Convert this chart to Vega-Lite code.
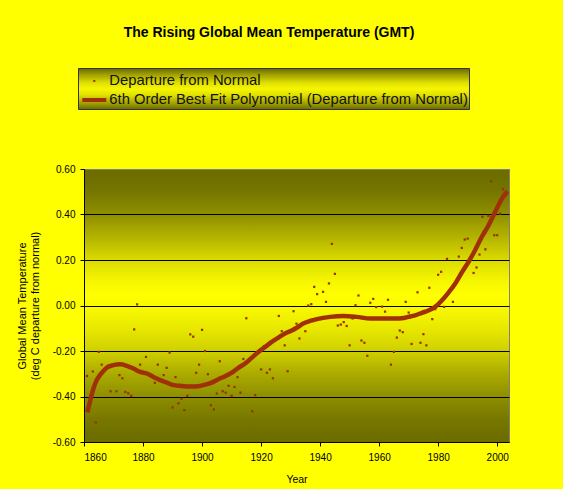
{
  "$schema": "https://vega.github.io/schema/vega-lite/v6.json",
  "autosize": {"type": "none"},
  "width": 425,
  "height": 273,
  "padding": {"left": 84, "top": 169, "right": 54, "bottom": 47},
  "background": "#ffff00",
  "view": {
    "fill": {"gradient": "linear", "x1": 0, "y1": 0, "x2": 0, "y2": 1, "stops": [
      {"offset": 0, "color": "#6b6b00"},
      {"offset": 0.08, "color": "#757500"},
      {"offset": 0.167, "color": "#909000"},
      {"offset": 0.25, "color": "#b4b400"},
      {"offset": 0.333, "color": "#dcdc00"},
      {"offset": 0.417, "color": "#f8f800"},
      {"offset": 0.46, "color": "#ffff00"},
      {"offset": 0.5, "color": "#fafa00"},
      {"offset": 0.583, "color": "#e8e800"},
      {"offset": 0.667, "color": "#cfcf00"},
      {"offset": 0.75, "color": "#aaaa00"},
      {"offset": 0.833, "color": "#8e8e00"},
      {"offset": 0.92, "color": "#767600"},
      {"offset": 1, "color": "#6b6b00"}
    ]},
    "stroke": "#808080",
    "strokeWidth": 1
  },
  "title": {
    "text": "The Rising Global Mean Temperature (GMT)",
    "font": "Liberation Sans",
    "fontSize": 14,
    "fontWeight": "bold",
    "color": "#000000",
    "anchor": "middle",
    "frame": "group",
    "dx": -27.5,
    "offset": 28
  },
  "datasets": {
    "observed": [
      {"year": 1861, "value": -0.31}, {"year": 1863, "value": -0.29}, {"year": 1864, "value": -0.514},
      {"year": 1865, "value": -0.204}, {"year": 1866, "value": -0.26}, {"year": 1868, "value": -0.265},
      {"year": 1869, "value": -0.377}, {"year": 1871, "value": -0.377}, {"year": 1872, "value": -0.306},
      {"year": 1873, "value": -0.32}, {"year": 1874, "value": -0.38}, {"year": 1875, "value": -0.386},
      {"year": 1876, "value": -0.397}, {"year": 1877, "value": -0.105}, {"year": 1878, "value": 0.005},
      {"year": 1879, "value": -0.26}, {"year": 1881, "value": -0.226}, {"year": 1884, "value": -0.34},
      {"year": 1885, "value": -0.26}, {"year": 1887, "value": -0.306}, {"year": 1888, "value": -0.274},
      {"year": 1889, "value": -0.207}, {"year": 1890, "value": -0.448}, {"year": 1891, "value": -0.315},
      {"year": 1892, "value": -0.43}, {"year": 1893, "value": -0.41}, {"year": 1894, "value": -0.46},
      {"year": 1895, "value": -0.397}, {"year": 1896, "value": -0.127}, {"year": 1897, "value": -0.137},
      {"year": 1898, "value": -0.296}, {"year": 1899, "value": -0.26}, {"year": 1900, "value": -0.107},
      {"year": 1901, "value": -0.2}, {"year": 1902, "value": -0.302}, {"year": 1903, "value": -0.438},
      {"year": 1904, "value": -0.457}, {"year": 1905, "value": -0.387}, {"year": 1906, "value": -0.245},
      {"year": 1907, "value": -0.377}, {"year": 1908, "value": -0.383}, {"year": 1909, "value": -0.353},
      {"year": 1910, "value": -0.397}, {"year": 1911, "value": -0.358}, {"year": 1912, "value": -0.315},
      {"year": 1913, "value": -0.383}, {"year": 1914, "value": -0.235}, {"year": 1915, "value": -0.056},
      {"year": 1917, "value": -0.465}, {"year": 1918, "value": -0.394}, {"year": 1920, "value": -0.281},
      {"year": 1921, "value": -0.179}, {"year": 1922, "value": -0.296}, {"year": 1923, "value": -0.281},
      {"year": 1924, "value": -0.32}, {"year": 1926, "value": -0.046}, {"year": 1927, "value": -0.113},
      {"year": 1928, "value": -0.175}, {"year": 1929, "value": -0.289}, {"year": 1931, "value": -0.025},
      {"year": 1932, "value": -0.08}, {"year": 1933, "value": -0.145}, {"year": 1934, "value": -0.082},
      {"year": 1935, "value": -0.113}, {"year": 1936, "value": 0.0}, {"year": 1937, "value": 0.006},
      {"year": 1938, "value": 0.082}, {"year": 1939, "value": 0.05}, {"year": 1941, "value": 0.06},
      {"year": 1942, "value": 0.016}, {"year": 1943, "value": 0.097}, {"year": 1944, "value": 0.271},
      {"year": 1945, "value": 0.139}, {"year": 1946, "value": -0.088}, {"year": 1947, "value": -0.084},
      {"year": 1948, "value": -0.073}, {"year": 1949, "value": -0.09}, {"year": 1950, "value": -0.175},
      {"year": 1951, "value": -0.057}, {"year": 1952, "value": 0.001}, {"year": 1953, "value": 0.044},
      {"year": 1954, "value": -0.154}, {"year": 1955, "value": -0.164}, {"year": 1956, "value": -0.221},
      {"year": 1957, "value": 0.012}, {"year": 1958, "value": 0.029}, {"year": 1959, "value": -0.007},
      {"year": 1961, "value": -0.005}, {"year": 1962, "value": -0.027}, {"year": 1963, "value": 0.025},
      {"year": 1964, "value": -0.26}, {"year": 1965, "value": -0.204}, {"year": 1966, "value": -0.141},
      {"year": 1967, "value": -0.11}, {"year": 1968, "value": -0.117}, {"year": 1969, "value": 0.016},
      {"year": 1970, "value": -0.031}, {"year": 1971, "value": -0.169}, {"year": 1973, "value": 0.058},
      {"year": 1974, "value": -0.164}, {"year": 1975, "value": -0.126}, {"year": 1976, "value": -0.175},
      {"year": 1977, "value": 0.078}, {"year": 1978, "value": -0.06}, {"year": 1979, "value": -0.016},
      {"year": 1980, "value": 0.135}, {"year": 1981, "value": 0.148}, {"year": 1982, "value": -0.006},
      {"year": 1983, "value": 0.205}, {"year": 1985, "value": 0.016}, {"year": 1987, "value": 0.215},
      {"year": 1988, "value": 0.253}, {"year": 1989, "value": 0.29}, {"year": 1990, "value": 0.294},
      {"year": 1992, "value": 0.143}, {"year": 1993, "value": 0.167}, {"year": 1994, "value": 0.224},
      {"year": 1995, "value": 0.39}, {"year": 1996, "value": 0.247}, {"year": 1997, "value": 0.394},
      {"year": 1998, "value": 0.546}, {"year": 1999, "value": 0.309}, {"year": 2000, "value": 0.309},
      {"year": 2001, "value": 0.404}, {"year": 2002, "value": 0.511}
    ],
    "fit": [
      {"year": 1861.1, "value": -0.47}, {"year": 1862, "value": -0.424}, {"year": 1863.2, "value": -0.365},
      {"year": 1864.3, "value": -0.328}, {"year": 1865.4, "value": -0.306}, {"year": 1866.5, "value": -0.289},
      {"year": 1867.7, "value": -0.274}, {"year": 1869.9, "value": -0.262}, {"year": 1872.2, "value": -0.258},
      {"year": 1874.5, "value": -0.265}, {"year": 1876.7, "value": -0.277}, {"year": 1879, "value": -0.292},
      {"year": 1881.3, "value": -0.299}, {"year": 1883.5, "value": -0.314}, {"year": 1885.8, "value": -0.328},
      {"year": 1888, "value": -0.339}, {"year": 1890.3, "value": -0.35}, {"year": 1892.5, "value": -0.353},
      {"year": 1895.9, "value": -0.356}, {"year": 1898.7, "value": -0.355}, {"year": 1901, "value": -0.348},
      {"year": 1903.3, "value": -0.339}, {"year": 1905.5, "value": -0.324}, {"year": 1907.8, "value": -0.311},
      {"year": 1910.1, "value": -0.295}, {"year": 1912.3, "value": -0.274}, {"year": 1914.6, "value": -0.255},
      {"year": 1916.8, "value": -0.23}, {"year": 1919.1, "value": -0.204}, {"year": 1921.4, "value": -0.182},
      {"year": 1923.6, "value": -0.16}, {"year": 1925.9, "value": -0.141}, {"year": 1928.1, "value": -0.123},
      {"year": 1930.4, "value": -0.11}, {"year": 1932.1, "value": -0.098}, {"year": 1934.3, "value": -0.079},
      {"year": 1936.6, "value": -0.068}, {"year": 1938.9, "value": -0.06}, {"year": 1943.4, "value": -0.05},
      {"year": 1947.9, "value": -0.046}, {"year": 1952.4, "value": -0.05}, {"year": 1957, "value": -0.057},
      {"year": 1961.5, "value": -0.057}, {"year": 1965.4, "value": -0.057}, {"year": 1967.7, "value": -0.056},
      {"year": 1969.9, "value": -0.05}, {"year": 1972.2, "value": -0.043}, {"year": 1974.5, "value": -0.032},
      {"year": 1976.7, "value": -0.022}, {"year": 1979, "value": -0.006}, {"year": 1981.3, "value": 0.023},
      {"year": 1983.5, "value": 0.057}, {"year": 1985.8, "value": 0.097}, {"year": 1988, "value": 0.145},
      {"year": 1990.3, "value": 0.192}, {"year": 1992.5, "value": 0.243}, {"year": 1994.8, "value": 0.302},
      {"year": 1997.1, "value": 0.353}, {"year": 1999.3, "value": 0.411}, {"year": 2001.6, "value": 0.47},
      {"year": 2003.5, "value": 0.502}
    ]
  },
  "layer": [
    {
      "data": {"name": "observed"},
      "mark": {"type": "square", "size": 5, "filled": true, "opacity": 1},
      "encoding": {
        "x": {
          "field": "year", "type": "quantitative",
          "scale": {"domain": [1860, 2004], "nice": false, "zero": false},
          "axis": {
            "values": [1860, 1880, 1900, 1920, 1940, 1960, 1980, 2000],
            "format": "d", "grid": false, "title": "Year",
            "labelFontSize": 10, "labelPadding": 6, "tickSize": 4,
            "titleFontSize": 10.5, "titlePadding": 12
          }
        },
        "y": {
          "field": "value", "type": "quantitative",
          "scale": {"domain": [-0.6, 0.6], "nice": false, "zero": false},
          "axis": {
            "values": [-0.6, -0.4, -0.2, 0, 0.2, 0.4, 0.6],
            "labelExpr": "(datum.value < -0.0001 ? '-' : '') + format(abs(datum.value), '.2f')",
            "grid": true,
            "gridColor": {"condition": {"test": "datum.value > 0.5", "value": "#808080"}, "value": "#000000"},
            "gridWidth": 1,
            "title": ["Global Mean Temperature", "(deg C departure from normal)"],
            "labelFontSize": 10, "labelPadding": 5, "tickSize": 4,
            "titleFontSize": 11, "titleLineHeight": 13.3, "titlePadding": 11.5
          }
        },
        "color": {
          "datum": "Departure from Normal", "type": "nominal",
          "scale": {
            "domain": ["Departure from Normal", "6th Order Best Fit Polynomial (Departure from Normal)"],
            "range": ["#993300", "#a0300a"]
          },
          "legend": {
            "orient": "none", "legendX": -6, "legendY": -101,
            "title": null, "padding": 1, "rowPadding": 0,
            "symbolOffset": 3.3, "labelOffset": 3,
            "symbolSize": 400, "symbolStrokeWidth": 4,
            "labelFont": "Liberation Sans", "labelFontSize": 14.8, "labelColor": "#111111", "labelLimit": 0,
            "strokeColor": "#333333", "fillColor": "#cccc00",
            "encoding": {
              "legend": {
                "fill": {"value": {"gradient": "linear", "x1": 0, "y1": 0, "x2": 0, "y2": 1, "stops": [
                  {"offset": 0, "color": "#6a6a00"},
                  {"offset": 0.15, "color": "#a0a000"},
                  {"offset": 0.35, "color": "#e0e000"},
                  {"offset": 0.5, "color": "#f6f600"},
                  {"offset": 0.65, "color": "#e0e000"},
                  {"offset": 0.85, "color": "#a0a000"},
                  {"offset": 1, "color": "#6a6a00"}
                ]}}
              },
              "symbols": {
                "shape": {"value": {"expr": "datum.index === 0 ? 'M-0.1,-0.1H0.1V0.1H-0.1Z' : 'M-1.2,0H1.2'"}},
                "fill": {"value": {"expr": "datum.index === 0 ? '#993300' : 'transparent'"}},
                "fillOpacity": {"value": {"expr": "datum.index === 0 ? 1 : 0"}},
                "stroke": {"value": "#a0300a"},
                "strokeOpacity": {"value": {"expr": "datum.index === 0 ? 0 : 1"}},
                "strokeWidth": {"value": 4},
                "opacity": {"value": 1}
              }
            }
          }
        }
      }
    },
    {
      "data": {"name": "fit"},
      "mark": {"type": "line", "strokeWidth": 4.5, "interpolate": "monotone"},
      "encoding": {
        "x": {"field": "year", "type": "quantitative"},
        "y": {"field": "value", "type": "quantitative"},
        "color": {"datum": "6th Order Best Fit Polynomial (Departure from Normal)", "type": "nominal"}
      }
    }
  ],
  "config": {
    "font": "Liberation Sans",
    "axis": {
      "domainColor": "#000000", "domainWidth": 1,
      "tickColor": "#000000", "tickWidth": 1,
      "labelColor": "#000000", "titleColor": "#000000",
      "labelFont": "Liberation Sans", "titleFont": "Liberation Sans",
      "titleFontWeight": "normal"
    }
  }
}
